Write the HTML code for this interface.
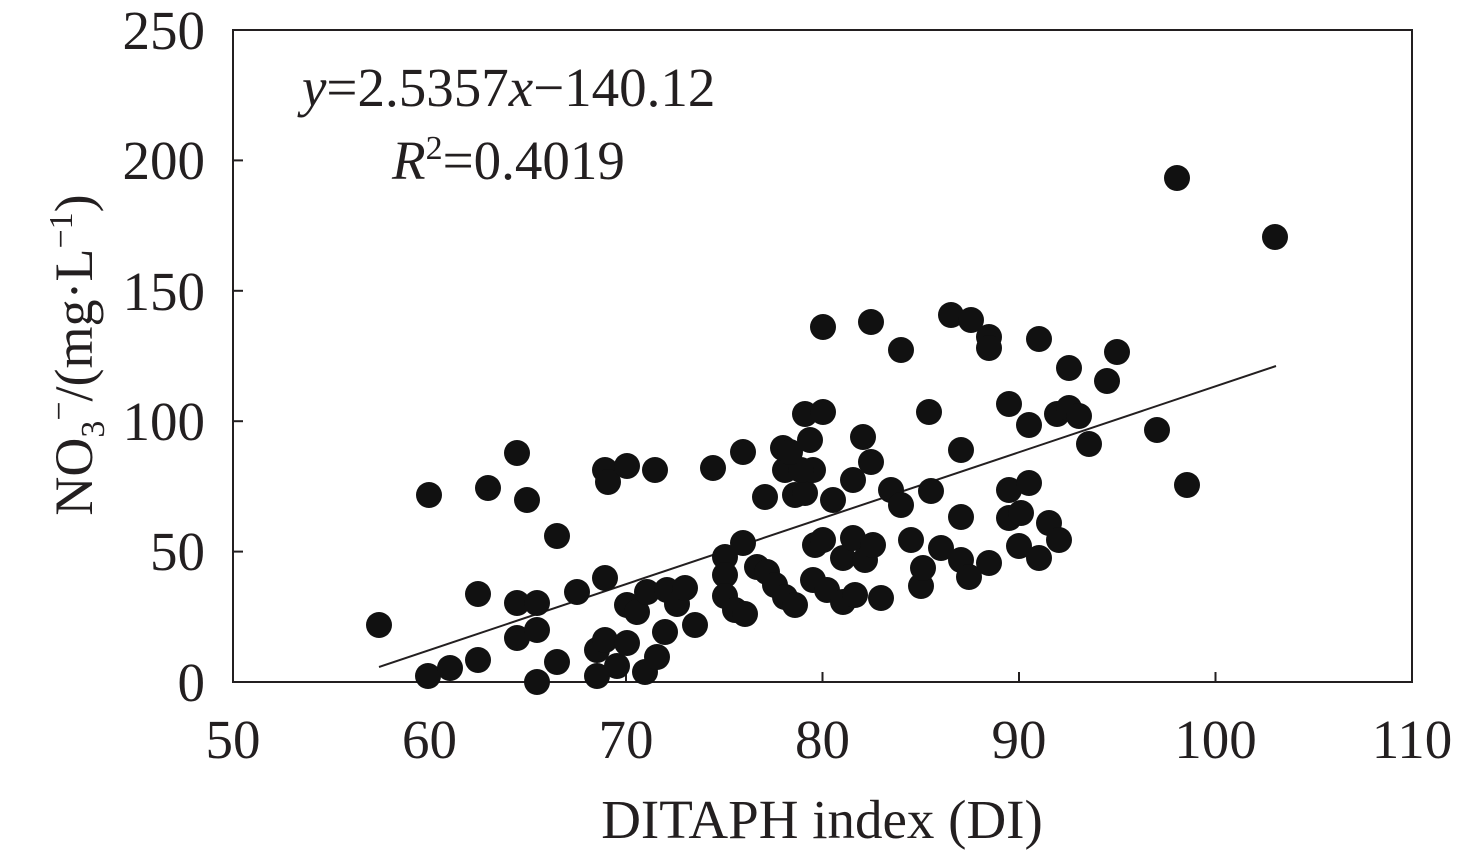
<!DOCTYPE html>
<html><head><meta charset="utf-8"><style>
body{margin:0;background:#fff;}
svg text{font-family:"Liberation Serif",serif;fill:#231f20;}
</style></head><body>
<svg width="1476" height="852" viewBox="0 0 1476 852" xmlns="http://www.w3.org/2000/svg">
<rect x="233" y="30" width="1179" height="652" fill="none" stroke="#231f20" stroke-width="2"/>
<g stroke="#231f20" stroke-width="2">
<line x1="233" y1="551.6" x2="243" y2="551.6"/><line x1="233" y1="421.2" x2="243" y2="421.2"/><line x1="233" y1="290.8" x2="243" y2="290.8"/><line x1="233" y1="160.4" x2="243" y2="160.4"/>
<line x1="429.5" y1="682" x2="429.5" y2="672"/><line x1="626" y1="682" x2="626" y2="672"/><line x1="822.5" y1="682" x2="822.5" y2="672"/><line x1="1019" y1="682" x2="1019" y2="672"/><line x1="1215.5" y1="682" x2="1215.5" y2="672"/>
</g>
<g font-size="55" text-anchor="end">
<text x="205" y="701">0</text><text x="205" y="570">50</text><text x="205" y="440">100</text><text x="205" y="310">150</text><text x="205" y="179">200</text><text x="205" y="49">250</text>
</g>
<g font-size="55" text-anchor="middle">
<text x="233" y="758">50</text><text x="429.5" y="758">60</text><text x="626" y="758">70</text><text x="822.5" y="758">80</text><text x="1019" y="758">90</text><text x="1215.5" y="758">100</text><text x="1412" y="758">110</text>
<text x="822" y="838">DITAPH index (DI)</text>
</g>
<text font-size="54" transform="translate(92,355) rotate(-90)" text-anchor="middle">NO<tspan font-size="34" dy="12">3</tspan><tspan font-size="34" dy="-34">−</tspan><tspan dy="22">/(mg·L</tspan><tspan font-size="34" dy="-20">−1</tspan><tspan dy="20">)</tspan></text>
<text x="302" y="106" font-size="55"><tspan font-style="italic">y</tspan>=2.5357<tspan font-style="italic">x</tspan>−140.12</text>
<text x="392" y="179" font-size="55"><tspan font-style="italic">R</tspan><tspan font-size="34" dy="-20">2</tspan><tspan dy="20">=0.4019</tspan></text>
<line x1="379" y1="667" x2="1276" y2="366" stroke="#231f20" stroke-width="2"/>
<g fill="#111">
<circle cx="379" cy="625" r="13"/><circle cx="429" cy="495" r="13"/><circle cx="428" cy="676" r="13"/><circle cx="450" cy="668" r="13"/><circle cx="488" cy="488" r="13"/><circle cx="478" cy="594" r="13"/><circle cx="478" cy="660" r="13"/><circle cx="517" cy="453" r="13"/><circle cx="517" cy="603" r="13"/><circle cx="517" cy="638" r="13"/><circle cx="527" cy="500" r="13"/><circle cx="537" cy="603" r="13"/><circle cx="537" cy="630" r="13"/><circle cx="557" cy="536" r="13"/><circle cx="557" cy="662" r="13"/><circle cx="537" cy="682" r="13"/><circle cx="577" cy="592" r="13"/><circle cx="597" cy="676" r="13"/><circle cx="597" cy="650" r="13"/><circle cx="605" cy="640" r="13"/><circle cx="605" cy="578" r="13"/><circle cx="605" cy="470" r="13"/><circle cx="608" cy="482" r="13"/><circle cx="627" cy="466" r="13"/><circle cx="627" cy="605" r="13"/><circle cx="617" cy="666" r="13"/><circle cx="627" cy="643" r="13"/><circle cx="637" cy="612" r="13"/><circle cx="645" cy="672" r="13"/><circle cx="657" cy="657" r="13"/><circle cx="655" cy="470" r="13"/><circle cx="647" cy="592" r="13"/><circle cx="665" cy="632" r="13"/><circle cx="667" cy="590" r="13"/><circle cx="677" cy="604" r="13"/><circle cx="685" cy="588" r="13"/><circle cx="695" cy="625" r="13"/><circle cx="713" cy="468" r="13"/><circle cx="725" cy="557" r="13"/><circle cx="725" cy="575" r="13"/><circle cx="725" cy="596" r="13"/><circle cx="735" cy="610" r="13"/><circle cx="745" cy="614" r="13"/><circle cx="743" cy="543" r="13"/><circle cx="743" cy="452" r="13"/><circle cx="757" cy="567" r="13"/><circle cx="765" cy="497" r="13"/><circle cx="767" cy="572" r="13"/><circle cx="775" cy="585" r="13"/><circle cx="785" cy="470" r="13"/><circle cx="783" cy="448" r="13"/><circle cx="785" cy="597" r="13"/><circle cx="795" cy="605" r="13"/><circle cx="795" cy="495" r="13"/><circle cx="805" cy="414" r="13"/><circle cx="805" cy="493" r="13"/><circle cx="813" cy="470" r="13"/><circle cx="813" cy="580" r="13"/><circle cx="815" cy="545" r="13"/><circle cx="823" cy="540" r="13"/><circle cx="823" cy="327" r="13"/><circle cx="823" cy="412" r="13"/><circle cx="827" cy="590" r="13"/><circle cx="833" cy="500" r="13"/><circle cx="843" cy="602" r="13"/><circle cx="843" cy="558" r="13"/><circle cx="853" cy="480" r="13"/><circle cx="853" cy="538" r="13"/><circle cx="855" cy="595" r="13"/><circle cx="863" cy="437" r="13"/><circle cx="865" cy="560" r="13"/><circle cx="873" cy="545" r="13"/><circle cx="871" cy="462" r="13"/><circle cx="871" cy="322" r="13"/><circle cx="881" cy="598" r="13"/><circle cx="891" cy="490" r="13"/><circle cx="901" cy="505" r="13"/><circle cx="901" cy="350" r="13"/><circle cx="911" cy="540" r="13"/><circle cx="921" cy="586" r="13"/><circle cx="923" cy="568" r="13"/><circle cx="929" cy="412" r="13"/><circle cx="931" cy="491" r="13"/><circle cx="941" cy="548" r="13"/><circle cx="951" cy="315" r="13"/><circle cx="961" cy="450" r="13"/><circle cx="961" cy="517" r="13"/><circle cx="961" cy="560" r="13"/><circle cx="969" cy="577" r="13"/><circle cx="971" cy="320" r="13"/><circle cx="989" cy="337" r="13"/><circle cx="989" cy="348" r="13"/><circle cx="989" cy="563" r="13"/><circle cx="1009" cy="404" r="13"/><circle cx="1009" cy="490" r="13"/><circle cx="1009" cy="518" r="13"/><circle cx="1021" cy="513" r="13"/><circle cx="1019" cy="546" r="13"/><circle cx="1029" cy="425" r="13"/><circle cx="1029" cy="483" r="13"/><circle cx="1039" cy="558" r="13"/><circle cx="1039" cy="339" r="13"/><circle cx="1049" cy="523" r="13"/><circle cx="1059" cy="540" r="13"/><circle cx="1057" cy="414" r="13"/><circle cx="1069" cy="368" r="13"/><circle cx="1069" cy="408" r="13"/><circle cx="1079" cy="416" r="13"/><circle cx="1089" cy="444" r="13"/><circle cx="1107" cy="381" r="13"/><circle cx="1117" cy="352" r="13"/><circle cx="1157" cy="430" r="13"/><circle cx="1177" cy="178" r="13"/><circle cx="1187" cy="485" r="13"/><circle cx="1275" cy="237" r="13"/><circle cx="801" cy="470" r="13"/><circle cx="790" cy="452" r="13"/><circle cx="810" cy="440" r="13"/>
</g>
</svg>
</body></html>
